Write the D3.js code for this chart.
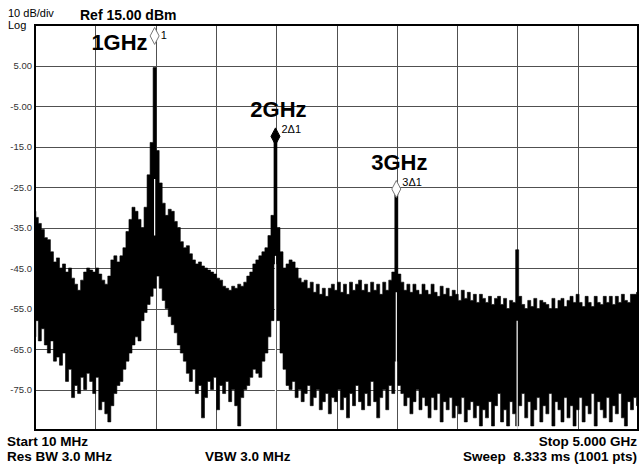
<!DOCTYPE html>
<html>
<head>
<meta charset="utf-8">
<script src="https://cdn.jsdelivr.net/npm/d3@7/dist/d3.min.js"></script>
<style>
  body { margin: 0; background: #fff; }
  svg { display: block; font-family: "Liberation Sans", Arial, sans-serif; }
  .grid line { stroke: #505050; stroke-width: 1; shape-rendering: crispEdges; }
  .grid path { display: none; }
  .grid text { font-size: 9.5px; fill: #333; }
</style>
</head>
<body>
<div id="chart"></div>
<script>
// sweep settings
var startMHz = 10, stopMHz = 5000, stepMHz = 25;
var refLevel = 15, dbPerDiv = 10, divisions = 10;

// trace every 25 MHz: top and bottom of the noise band (dBm)
var upperDbm = [
  -31, -32.5, -34, -35.5, -37.5, -38, -41, -43.5, -42.5, -45,
  -44, -46, -45, -47.5, -49, -50.5, -48, -46, -45, -45.5,
  -46, -45, -46.5, -48, -49, -47, -43, -42, -43.5, -42,
  -40, -36, -33, -30, -31, -33, -35, -30, -22, -14,
  4.5, -16, -24, -29, -32, -30.5, -31, -33.5, -35, -38.5,
  -40, -39.5, -41.5, -43, -44, -43.5, -44.5, -45, -45.5, -46,
  -46.5, -47.5, -48, -49.5, -50, -50.5, -49.5, -50, -49, -49.5,
  -48.5, -47, -46, -44, -43, -42, -41, -40, -37, -32,
  -12.6, -35, -41, -45, -44, -43, -43.5, -45, -47.5, -48.5,
  -48, -50, -48.5, -51, -49, -51.5, -50, -52, -50, -49,
  -50.5, -48.5, -51, -49, -51.5, -48.5, -50.5, -49, -48, -50.5,
  -49, -51, -48.5, -50.5, -49, -51.5, -48.5, -50.5, -48, -46,
  -25.7, -46.5, -48.5, -50.5, -49, -51, -49, -50.5, -51.5, -49,
  -50.5, -51.5, -49, -51, -52, -49.5, -51.5, -50, -52, -50.5,
  -51.5, -53, -50.5, -52.5, -51, -53, -51.5, -53.5, -51.5, -52.5,
  -53.5, -52, -54, -52.5, -52, -54, -52.5, -55, -53, -53.5,
  -40.5, -52, -54, -55, -53, -54.5, -52.5, -55, -53, -53.5,
  -54, -55, -52.5, -55, -53, -52.5, -54.5, -53, -52, -53.5,
  -51.5, -53.5, -54.5, -52, -53.5, -54.5, -52, -53.5, -54, -52,
  -53.5, -52, -54, -52, -53.5, -51.5, -53, -53.5, -51.5, -51.5,
  -51
];
var lowerDbm = [
  -62, -58, -63, -60, -64, -66, -63, -68, -67, -69,
  -66, -73, -70, -77, -74, -76, -72, -75, -71, -73,
  -76, -72, -80, -78, -81, -83, -79, -76, -74, -73,
  -70, -68, -66, -64, -62, -63, -58, -56, -54, -52,
  -50, -47, -50, -53, -55, -57, -59, -61, -64, -66,
  -68, -71, -73, -70, -76, -74, -82, -77, -73, -75,
  -72, -80, -74, -76, -73, -78, -75, -79, -84, -77,
  -75, -74, -72, -70, -71, -72, -68, -66, -62, -58,
  -44, -58, -66, -70, -74, -75, -73, -77, -75, -78,
  -76, -74, -79, -77, -75, -80, -78, -76, -81, -77,
  -78, -75, -80, -77, -82, -76, -79, -74, -78, -80,
  -76, -79, -73, -78, -82, -77, -75, -80, -74, -76,
  -68, -74, -76, -79, -77, -81, -78, -75, -80, -77,
  -79, -82, -77, -80, -76, -83, -78, -80, -77, -82,
  -79, -81, -77, -83, -80, -78, -82, -79, -84, -80,
  -82, -78, -84, -79, -76, -83, -80, -84, -78, -81,
  -84, -79, -76, -82, -78, -84, -80, -77, -83, -79,
  -81, -76, -84, -78, -80, -83, -77, -82, -79, -84,
  -80, -77, -83, -79, -81, -76, -84, -78, -80, -82,
  -77, -83, -79, -81, -76, -82, -84, -78, -80, -77,
  -79
];

// thin gaps in the trace right under the carriers (dBm)
var gapFreqs = [1000, 2000, 3000, 4000];
var gapTop = [-23, -42, -51, -58];
var gapBottom = [-37, -85, -85, -85];

// markers
var markerFreqs = [1000, 2000, 3000];
var markerDbm = [12.3, -12.5, -25.5];
var markerNames = ["1", "2\u03941", "3\u03941"];
var markerActive = [false, true, false];
var carrierNames = ["1GHz", "2GHz", "3GHz"];

// amplitude labels
var yTicks = [5, -5, -15, -25, -35, -45, -55, -65, -75];
var yTickLabels = ["5.00", "-5.00", "-15.0", "-25.0", "-35.0", "-45.0", "-55.0", "-65.0", "-75.0"];

// set the dimensions and margins of the graph
var margin = {top: 25, right: 3, bottom: 35, left: 35},
    width = 641 - margin.left - margin.right,
    height = 465 - margin.top - margin.bottom;

var x = d3.scaleLinear().domain([startMHz, stopMHz]).range([0, width]);
var y = d3.scaleLinear().domain([refLevel - dbPerDiv * divisions, refLevel]).range([height, 0]);

var svg = d3.select("#chart").append("svg")
    .attr("width", 641)
    .attr("height", 465);

var plot = svg.append("g")
    .attr("transform", "translate(" + margin.left + "," + margin.top + ")");

// graticule
var xGrid = d3.range(0, divisions + 1).map(function(i) {
    return startMHz + i * (stopMHz - startMHz) / divisions;
});

plot.append("g")
    .attr("class", "grid")
    .attr("transform", "translate(0," + height + ")")
    .call(d3.axisBottom(x).tickValues(xGrid).tickSize(-height).tickFormat(""));

plot.append("g")
    .attr("class", "grid")
    .call(d3.axisLeft(y).tickValues(yTicks).tickSize(-width).tickPadding(3)
        .tickFormat(function(d, i) { return yTickLabels[i]; }));

// the trace
var trace = upperDbm.map(function(v, i) {
    return {f: i === 0 ? startMHz : i * stepMHz, hi: v, lo: lowerDbm[i]};
});

plot.append("clipPath").attr("id", "clip")
    .append("rect").attr("width", width).attr("height", height);

var band = d3.area()
    .curve(d3.curveStep)
    .x(function(d) { return x(d.f); })
    .y0(function(d) { return y(d.lo); })
    .y1(function(d) { return y(d.hi); });

plot.append("path")
    .datum(trace)
    .attr("clip-path", "url(#clip)")
    .attr("fill", "#000")
    .attr("stroke", "#000")
    .attr("stroke-width", 0.6)
    .attr("d", band);

plot.selectAll(".gap")
    .data(gapFreqs)
    .enter().append("line")
    .attr("class", "gap")
    .attr("clip-path", "url(#clip)")
    .attr("x1", function(d) { return x(d); })
    .attr("x2", function(d) { return x(d); })
    .attr("y1", function(d, i) { return y(gapTop[i]); })
    .attr("y2", function(d, i) { return y(gapBottom[i]); })
    .attr("stroke", "#fff")
    .attr("stroke-width", 1.2);

// frame
plot.append("rect")
    .attr("width", width)
    .attr("height", height)
    .attr("fill", "none")
    .attr("stroke", "#000")
    .attr("stroke-width", 2);

// markers
var mk = plot.selectAll(".marker")
    .data(markerFreqs)
    .enter().append("g")
    .attr("class", "marker")
    .attr("transform", function(d, i) {
        return "translate(" + x(d) + "," + y(markerDbm[i]) + ")";
    });

mk.append("path")
    .attr("d", "M0,-8.5L4.5,0L0,8.5L-4.5,0Z")
    .attr("fill", function(d, i) { return markerActive[i] ? "#000" : "#fff"; })
    .attr("stroke", function(d, i) { return markerActive[i] ? "#000" : "#777"; })
    .attr("stroke-width", 1);

mk.append("text")
    .attr("x", 6)
    .attr("y", function(d, i) { return i === 0 ? 3 : -3; })
    .attr("font-size", "11px")
    .attr("fill", "#000")
    .text(function(d, i) { return markerNames[i]; });

mk.append("text")
    .attr("x", function(d, i) { return i === 0 ? -7 : 3; })
    .attr("y", function(d, i) { return i === 0 ? 14 : -19; })
    .attr("text-anchor", function(d, i) { return i === 0 ? "end" : "middle"; })
    .attr("font-size", "22px")
    .attr("font-weight", "bold")
    .text(function(d, i) { return carrierNames[i]; });

// header
svg.append("text").attr("x", 8).attr("y", 17).attr("font-size", "11px").text("10 dB/div");
svg.append("text").attr("x", 8).attr("y", 29).attr("font-size", "11px").text("Log");
svg.append("text").attr("x", 80).attr("y", 20).attr("font-size", "14px")
    .attr("font-weight", "bold").text("Ref 15.00 dBm");

// footer
var foot = svg.append("g").attr("font-size", "13.5px").attr("font-weight", "bold");
foot.append("text").attr("x", 7).attr("y", 446).text("Start 10 MHz");
foot.append("text").attr("x", 7).attr("y", 461).text("Res BW 3.0 MHz");
foot.append("text").attr("x", 205).attr("y", 461).text("VBW 3.0 MHz");
foot.append("text").attr("x", 637).attr("y", 446).attr("text-anchor", "end").text("Stop 5.000 GHz");
foot.append("text").attr("x", 637).attr("y", 461).attr("text-anchor", "end")
    .attr("xml:space", "preserve").text("Sweep  8.333 ms (1001 pts)");
</script>
</body>
</html>
